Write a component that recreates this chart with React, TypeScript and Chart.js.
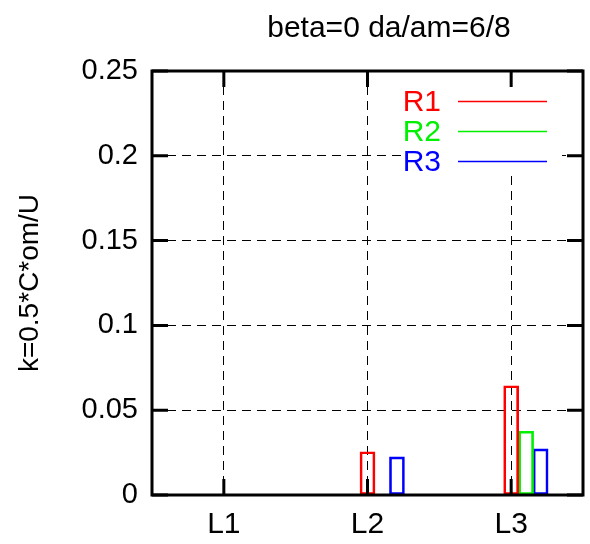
import React, { useEffect, useRef } from "react";
import { Chart, registerables } from "chart.js";

Chart.register(...registerables);

const categories = ["L1", "L2", "L3"];
const seriesNames = ["R1", "R2", "R3"];
const r1Values = [0, 0.0255, 0.0644];
const r2Values = [0, 0, 0.0376];
const r3Values = [0, 0.0225, 0.0272];
const yTickValues = [0, 0.05, 0.1, 0.15, 0.2, 0.25];
const yTickLabels = ["0", "0.05", "0.1", "0.15", "0.2", "0.25"];
const titleText = "beta=0 da/am=6/8";
const yAxisTitle = "k=0.5*C*om/U";

const seriesColors = ["#ff0000", "#00f000", "#0000ff"];
const barOffsets = [0, 0.104, 0.205];
const FONT = "'Liberation Sans', Arial, sans-serif";

const overlayPlugin = {
  id: "gnuplotOverlay",
  afterDatasetsDraw(chart: any) {
    const { ctx, chartArea } = chart;
    const { left, right, top, bottom } = chartArea;
    const xs = chart.scales.x;
    const ys = chart.scales.y;

    // opaque key box
    ctx.save();
    ctx.fillStyle = "#fff";
    ctx.fillRect(404, 86, 158, 90);
    ctx.restore();

    ctx.save();
    ctx.strokeStyle = "#000";
    ctx.lineWidth = 3;
    ctx.lineCap = "butt";
    const tl = 16;
    ctx.beginPath();
    categories.forEach((_, i) => {
      const px = xs.getPixelForValue(i + 1);
      ctx.moveTo(px, bottom);
      ctx.lineTo(px, bottom - tl);
      ctx.moveTo(px, top);
      ctx.lineTo(px, top + tl);
    });
    yTickValues.forEach((v) => {
      const py = ys.getPixelForValue(v);
      ctx.moveTo(left, py);
      ctx.lineTo(left + tl, py);
      ctx.moveTo(right, py);
      ctx.lineTo(right - tl, py);
    });
    ctx.stroke();
    ctx.strokeRect(left, top, right - left, bottom - top);
    ctx.restore();

    // title
    ctx.save();
    ctx.fillStyle = "#000";
    ctx.font = `30px ${FONT}`;
    ctx.textAlign = "center";
    ctx.textBaseline = "alphabetic";
    ctx.fillText(titleText, 389, 37);
    ctx.restore();

    // legend
    ctx.save();
    ctx.font = `30px ${FONT}`;
    ctx.textAlign = "right";
    ctx.textBaseline = "middle";
    seriesNames.forEach((name, i) => {
      const y = 101.5 + i * 30;
      ctx.fillStyle = seriesColors[i];
      ctx.fillText(name, 441, y + 1);
      ctx.strokeStyle = seriesColors[i];
      ctx.lineWidth = 1.5;
      ctx.beginPath();
      ctx.moveTo(458, y);
      ctx.lineTo(547, y);
      ctx.stroke();
    });
    ctx.restore();
  },
};

export default function App() {
  const canvasRef = useRef<HTMLCanvasElement | null>(null);

  useEffect(() => {
    if (!canvasRef.current) return;
    const seriesValues = [r1Values, r2Values, r3Values];
    const datasets = seriesNames.map((name, s) => ({
      label: name,
      data: categories.map((_, i) => ({
        x: i + 1 + barOffsets[s],
        y: seriesValues[s][i] === 0 ? null : seriesValues[s][i],
      })),
      borderColor: seriesColors[s],
      backgroundColor: "rgba(0,0,0,0)",
      borderWidth: 2,
      borderSkipped: false,
      barThickness: 15,
      grouped: false,
    }));

    const chart = new Chart(canvasRef.current, {
      type: "bar",
      data: { datasets } as any,
      plugins: [overlayPlugin],
      options: {
        responsive: false,
        animation: false,
        events: [],
        layout: { padding: { top: 71, right: 7, left: 0, bottom: 0 } },
        plugins: {
          legend: { display: false },
          title: { display: false },
          tooltip: { enabled: false },
        },
        scales: {
          x: {
            type: "linear",
            min: 0.5,
            max: 3.5,
            offset: false,
            afterBuildTicks: (scale: any) => {
              scale.ticks = categories.map((_, i) => ({ value: i + 1 }));
            },
            afterFit: (scale: any) => {
              scale.height = 49;
            },
            ticks: {
              padding: 12,
              color: "#000",
              font: { family: FONT, size: 30 },
              maxRotation: 0,
              autoSkip: false,
              callback: (v: any) => categories[Math.round(Number(v)) - 1] ?? "",
            },
            grid: {
              offset: false,
              color: "#000",
              lineWidth: 1,
              drawTicks: false,
            },
            border: { display: false, dash: [9, 6] },
          },
          y: {
            type: "linear",
            min: 0,
            max: 0.25,
            afterBuildTicks: (scale: any) => {
              scale.ticks = yTickValues.map((v) => ({ value: v }));
            },
            afterFit: (scale: any) => {
              scale.width = 152;
            },
            ticks: {
              padding: 14,
              color: "#000",
              font: { family: FONT, size: 29 },
              callback: (v: any) => {
                const idx = yTickValues.findIndex((t) => Math.abs(t - Number(v)) < 1e-9);
                return idx >= 0 ? yTickLabels[idx] : "";
              },
            },
            title: {
              display: true,
              text: yAxisTitle,
              color: "#000",
              font: { family: FONT, size: 28 },
              padding: { top: 13, bottom: 0 },
            },
            grid: {
              color: "#000",
              lineWidth: 1,
              drawTicks: false,
            },
            border: { display: false, dash: [9, 6] },
          },
        },
      } as any,
    });
    return () => chart.destroy();
  }, []);

  return (
    <div style={{ position: "fixed", left: 0, top: 0, width: 590, height: 544, background: "#fff" }}>
      <canvas ref={canvasRef} width={590} height={544} style={{ display: "block" }} />
    </div>
  );
}
